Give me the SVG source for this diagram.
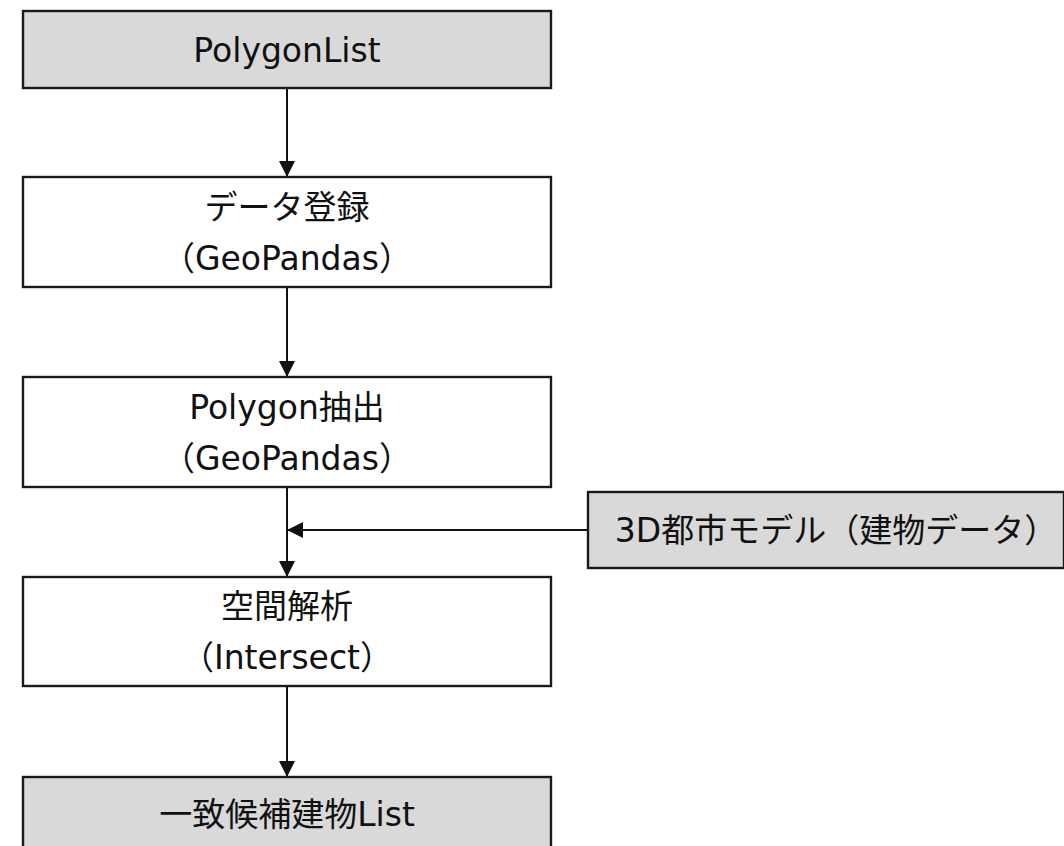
<svg xmlns="http://www.w3.org/2000/svg" width="1064" height="846" viewBox="0 0 1064 846">
<style>
.box{stroke:#1a1a1a;stroke-width:2.4}
.grey{fill:#d9d9d9}
.white{fill:#ffffff}
.t{font-family:"DejaVu Sans","Noto Sans CJK JP",sans-serif;font-size:33px;fill:#111;text-anchor:middle;dominant-baseline:central}
.c{stroke:#111;stroke-width:2;fill:none}
</style>
<defs>
<marker id="ah" markerWidth="16" markerHeight="16" viewBox="0 0 16 16" refX="16" refY="8" orient="auto" markerUnits="userSpaceOnUse">
<path d="M0,0 L16,8 L0,16 Z" fill="#111"/>
</marker>
</defs>
<rect width="1064" height="846" fill="#ffffff"/>
<g id="connectors">
<line class="c" x1="287" y1="88" x2="287" y2="177" marker-end="url(#ah)"/>
<line class="c" x1="287" y1="287" x2="287" y2="377" marker-end="url(#ah)"/>
<line class="c" x1="287" y1="487" x2="287" y2="577" marker-end="url(#ah)"/>
<line class="c" x1="588" y1="530" x2="287" y2="530" marker-end="url(#ah)"/>
<line class="c" x1="287" y1="686" x2="287" y2="777" marker-end="url(#ah)"/>
</g>
<g id="n1">
<rect class="box grey" x="23" y="11" width="528" height="77"/>
<text class="t" x="287" y="50">PolygonList</text>
</g>
<g id="n2">
<rect class="box white" x="23" y="177" width="528" height="110"/>
<text class="t" x="287" y="207">データ登録</text>
<text class="t" x="287" y="258">（GeoPandas）</text>
</g>
<g id="n3">
<rect class="box white" x="23" y="377" width="528" height="110"/>
<text class="t" x="287" y="407">Polygon抽出</text>
<text class="t" x="287" y="458">（GeoPandas）</text>
</g>
<g id="n4">
<rect class="box white" x="23" y="577" width="528" height="109"/>
<text class="t" x="287" y="606">空間解析</text>
<text class="t" x="287" y="657">（Intersect）</text>
</g>
<g id="n5">
<rect class="box grey" x="23" y="777" width="528" height="80"/>
<text class="t" x="287" y="814">一致候補建物List</text>
</g>
<g id="n6">
<rect class="box grey" x="588" y="492" width="476" height="76"/>
<text class="t" x="836" y="530">3D都市モデル（建物データ）</text>
</g>
</svg>
